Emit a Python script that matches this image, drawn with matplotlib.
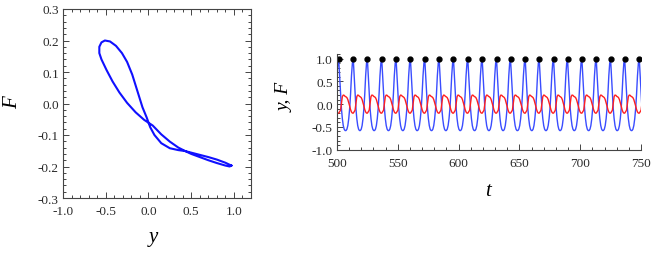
import matplotlib
matplotlib.use('Agg')
import matplotlib.pyplot as plt
import numpy as np
from matplotlib.ticker import MultipleLocator, FormatStrFormatter

# phase portrait (y, F), one closed loop
loop_y = [0.97, 0.90, 0.80, 0.70, 0.60, 0.50, 0.43, 0.35, 0.25, 0.15, 0.07, 0.02,
          -0.02, -0.07, -0.13, -0.19, -0.25, -0.31, -0.38, -0.45, -0.51, -0.55, -0.575,
          -0.575, -0.55, -0.49, -0.42, -0.34, -0.25, -0.15, -0.05,
          0.05, 0.15, 0.25, 0.35, 0.43, 0.50, 0.60, 0.70, 0.80, 0.90, 0.95, 0.97]
loop_F = [-0.197, -0.188, -0.178, -0.170, -0.163, -0.156, -0.151, -0.148, -0.142, -0.126, -0.100, -0.075,
          -0.045, -0.012, 0.040, 0.092, 0.132, 0.160, 0.183, 0.197, 0.200, 0.194, 0.180,
          0.160, 0.140, 0.106, 0.070, 0.035, 0.002, -0.028, -0.052,
          -0.070, -0.098, -0.121, -0.140, -0.151, -0.160, -0.170, -0.180, -0.189, -0.197, -0.200, -0.197]

# time series: peak times of y (black dots) and one period sampled at even phase steps
peak_t = [501.4, 513.4, 525.0, 536.8, 548.6, 560.4, 572.2, 584.0, 595.8, 607.6, 619.4,
          631.2, 642.7, 654.8, 666.3, 678.1, 689.6, 701.4, 713.2, 725.0, 736.6, 748.6]
peak_y = 0.98
y_cycle = [0.98, 0.62, 0.22, -0.10, -0.32, -0.47, -0.55, -0.58,
           -0.58, -0.55, -0.47, -0.32, -0.10, 0.22, 0.62, 0.90]
F_cycle = [-0.198, -0.164, -0.134, 0.01, 0.165, 0.199, 0.193, 0.17,
           0.16, 0.142, 0.10, 0.03, -0.04, -0.12, -0.172, -0.197]

period = np.mean(np.diff(peak_t))
starts = [peak_t[0] - period] + peak_t
ends = peak_t + [peak_t[-1] + period]
phase = np.arange(len(y_cycle)) / len(y_cycle)
t_all, y_all, F_all = [], [], []
for a, b in zip(starts, ends):
    t_all += list(a + phase * (b - a))
    y_all += y_cycle
    F_all += F_cycle

plt.rcParams['font.family'] = ['Liberation Serif', 'DejaVu Serif']
tick_col = '#2a2a2a'
spine_col = '#444444'

fig = plt.figure(figsize=(6.54, 2.55), dpi=100)

ax1 = fig.add_axes([63/654, 1-199/255, 188/654, 189/255])
ax1.plot(loop_y, loop_F, color='#1010ff', lw=1.5)
ax1.set_xlim(-1.0, 1.2)
ax1.set_ylim(-0.3, 0.3)
ax1.xaxis.set_major_locator(MultipleLocator(0.5))
ax1.xaxis.set_minor_locator(MultipleLocator(0.1))
ax1.yaxis.set_major_locator(MultipleLocator(0.1))
ax1.yaxis.set_minor_locator(MultipleLocator(0.02))
ax1.xaxis.set_major_formatter(FormatStrFormatter('%.1f'))
ax1.yaxis.set_major_formatter(FormatStrFormatter('%.1f'))
ax1.tick_params(which='both', direction='in', top=True, right=True, colors=spine_col,
                labelcolor=tick_col, labelsize=9.5, width=0.7)
ax1.tick_params(axis='x', pad=5)
ax1.tick_params(axis='y', pad=3)
ax1.tick_params(which='major', length=4)
ax1.tick_params(which='minor', length=2)
for s in ax1.spines.values():
    s.set_color(spine_col)
    s.set_linewidth(0.8)

ax2 = fig.add_axes([337/654, 1-150.7/255, 304/654, 95.7/255])
ax2.plot(t_all, y_all, color='#3a4dff', lw=1.0)
ax2.plot(t_all, F_all, color='#ff2020', lw=1.0)
ax2.plot(peak_t, [peak_y]*len(peak_t), 'o', color='black', ms=3.5)
ax2.set_xlim(500, 750)
ax2.set_ylim(-1.0, 1.1)
ax2.xaxis.set_major_locator(MultipleLocator(50))
ax2.xaxis.set_minor_locator(MultipleLocator(10))
ax2.yaxis.set_major_locator(MultipleLocator(0.5))
ax2.yaxis.set_minor_locator(MultipleLocator(0.1))
ax2.yaxis.set_major_formatter(FormatStrFormatter('%.1f'))
ax2.tick_params(which='both', direction='in', colors=spine_col,
                labelcolor=tick_col, labelsize=9.5, width=0.7)
ax2.tick_params(axis='x', pad=5)
ax2.tick_params(axis='y', pad=3)
ax2.tick_params(which='major', length=4)
ax2.tick_params(which='minor', length=2)
ax2.spines['top'].set_visible(False)
ax2.spines['right'].set_visible(False)
for s in ax2.spines.values():
    s.set_color(spine_col)
    s.set_linewidth(0.8)

fig.text(153/654, 1-238/255, 'y', style='italic', fontsize=15, ha='center', va='center')
fig.text(13/654, 1-103/255, 'F', style='italic', fontsize=15, ha='center', va='center', rotation=90)
fig.text(285/654, 1-97/255, 'y, F', style='italic', fontsize=14, ha='center', va='center', rotation=90)
fig.text(488/654, 1-192/255, 't', style='italic', fontsize=15, ha='center', va='center')

fig.savefig('out.png', dpi=100)
